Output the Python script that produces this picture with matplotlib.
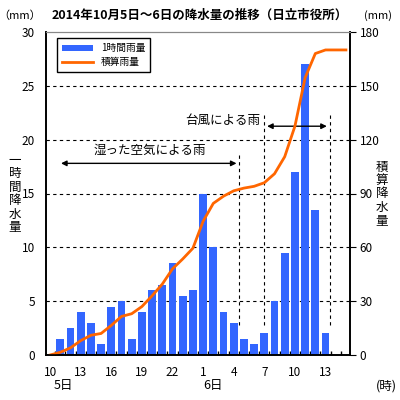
import numpy as np
import matplotlib
matplotlib.use("Agg")
from matplotlib import pyplot as plt

plt.rcParams['font.family'] = ['Noto Sans CJK JP', 'DejaVu Sans']

# hourly rainfall (mm), hours 11 (5th) .. 13 (6th)
hourly = [1.5, 2.5, 4.0, 3.0, 1.0, 4.5, 5.0, 1.5, 4.0, 6.0, 6.5, 8.5, 5.5, 6.0,
          15.0, 10.0, 4.0, 3.0, 1.5, 1.0, 2.0, 5.0, 9.5, 17.0, 27.0, 13.5, 2.0]
tick_labels = ["10", "13", "16", "19", "22", "1", "4", "7", "10", "13"]
day_labels = ["5日", "6日"]

bar_x = np.arange(1, len(hourly) + 1)
cum = np.concatenate([[0], np.cumsum(hourly), [sum(hourly), sum(hourly)]])
cum_x = np.arange(len(cum))

fig = plt.figure(figsize=(4, 4), dpi=100)
ax = fig.add_axes([0.115, 0.1125, 0.76, 0.8075])
ax2 = ax.twinx()

for v in [5, 10, 15, 20, 25]:
    ax.axhline(v, color='k', linestyle=(0, (3, 3)), linewidth=0.8, zorder=0)

bars = ax.bar(bar_x, hourly, width=0.75, color='#3366ff', zorder=2)
ax2.plot(cum_x, cum, color='#ff6600', linewidth=2)

ax.set_xlim(-0.4, 29.4)
ax.set_ylim(0, 30)
ax2.set_ylim(0, 180)
ax.set_yticks(np.arange(0, 31, 5))
ax2.set_yticks(np.arange(0, 181, 30))

ax.set_xticks(np.arange(0, 28, 3))
ax.set_xticklabels(tick_labels)
ax.set_xticks(np.arange(0.5, 29, 1), minor=True)
ax.tick_params(axis='x', which='major', length=0, pad=8, labelsize=8.5)
ax.tick_params(axis='x', which='minor', direction='in', length=3, width=1)
ax.tick_params(axis='y', direction='out', length=0, labelsize=8.5, pad=8)
ax2.tick_params(axis='y', direction='out', length=4, labelsize=8.5, pad=3)

for sp in ['left', 'right', 'bottom']:
    ax.spines[sp].set_linewidth(1.2)
    ax2.spines[sp].set_linewidth(1.2)
ax.spines['top'].set_color('#888888')
ax2.spines['top'].set_color('#888888')

# annotation dashed lines and arrows
for x0, y0, y1 in [(18.55, 2.8, 18.8), (21.0, 2.8, 22.4), (27.4, 2.8, 22.4)]:
    ax.plot([x0, x0], [y0, y1], color='k', linestyle=(0, (3, 3)), linewidth=0.8, zorder=3)
ax.annotate("", xy=(0.8, 17.8), xytext=(18.55, 17.8),
            arrowprops=dict(arrowstyle='<|-|>', color='k', lw=1, mutation_scale=8), zorder=4)
ax.annotate("", xy=(21.0, 21.25), xytext=(27.4, 21.25),
            arrowprops=dict(arrowstyle='<|-|>', color='k', lw=1, mutation_scale=8), zorder=4)
ax.text(9.8, 19.0, "湿った空気による雨", ha='center', va='center', fontsize=9, zorder=4)
ax.text(16.9, 21.8, "台風による雨", ha='center', va='center', fontsize=9, zorder=4)

# legend
h2, = ax.plot([], [], color='#ff6600', linewidth=2)
ax2.legend([bars, h2], ["1時間雨量", "積算雨量"], loc='upper left', bbox_to_anchor=(0.02, 0.995),
           fontsize=7, frameon=True, fancybox=False, edgecolor='k', framealpha=1,
           handlelength=3.2, handleheight=0.6, borderpad=0.5, labelspacing=0.4)

# texts outside axes
fig.text(0.05, 0.962, "（mm）", ha='center', va='center', fontsize=8)
fig.text(0.945, 0.962, "(mm)", ha='center', va='center', fontsize=8)
fig.text(0.5, 0.962, "2014年10月5日～6日の降水量の推移（日立市役所）", ha='center', va='center',
         fontsize=9, fontweight='bold')
fig.text(0.037, 0.515, "\n".join("一時間降水量"), ha='center', va='center', fontsize=9, linespacing=1.05)
fig.text(0.955, 0.515, "\n".join("積算降水量"), ha='center', va='center', fontsize=9, linespacing=1.05)
fig.text(0.158, 0.036, day_labels[0], ha='center', va='center', fontsize=9)
fig.text(0.533, 0.036, day_labels[1], ha='center', va='center', fontsize=9)
fig.text(0.965, 0.036, "(時)", ha='center', va='center', fontsize=9)

fig.savefig("out.png", dpi=100)
